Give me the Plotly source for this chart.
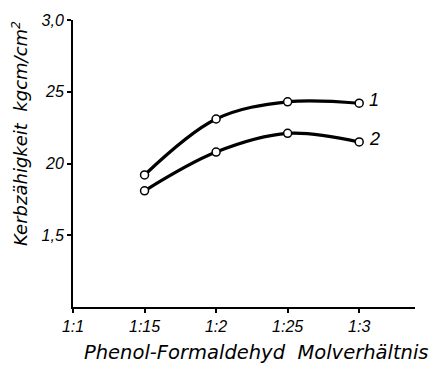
import plotly.graph_objects as go

x_vals = [1.5, 2.0, 2.5, 3.0]
x_tick_vals = [1.0, 1.5, 2.0, 2.5, 3.0]
x_tick_text = ["1:1", "1:15", "1:2", "1:25", "1:3"]
y_tick_vals = [1.5, 2.0, 2.5, 3.0]
y_tick_text = ["1,5", "20", "25", "3,0"]
curve1 = [1.92, 2.31, 2.43, 2.42]
curve2 = [1.81, 2.08, 2.21, 2.15]
labels = ["1", "2"]

FONT = "Liberation Sans"
TFONT = "DejaVu Sans"

fig = go.Figure()
for ys in (curve1, curve2):
    fig.add_trace(go.Scatter(
        x=x_vals, y=ys, mode="lines+markers",
        line=dict(color="black", width=3.2, shape="spline", smoothing=1.0),
        marker=dict(symbol="circle", size=8, color="white",
                    line=dict(color="black", width=1.5)),
        showlegend=False, hoverinfo="skip"))

for lab, ys in zip(labels, (curve1, curve2)):
    fig.add_annotation(x=x_vals[-1], y=ys[-1], xref="x", yref="y",
                       text=lab, showarrow=False, xanchor="left",
                       xshift=8, yshift=3,
                       font=dict(family=FONT, size=18, color="black", style="italic"))

fig.add_annotation(xref="paper", yref="paper", x=-0.155, y=0.606,
                   text="Kerbzähigkeit  kgcm/cm<sup>2</sup>", textangle=-90,
                   showarrow=False, xanchor="center", yanchor="middle",
                   font=dict(family=TFONT, size=18, color="black", style="italic"))
fig.add_annotation(xref="paper", yref="paper", x=0.535, y=-0.158,
                   text="Phenol-Formaldehyd  Molverhältnis",
                   showarrow=False, xanchor="center", yanchor="middle",
                   font=dict(family=TFONT, size=19.5, color="black", style="italic"))

tickfont = dict(family=FONT, size=16, color="black", style="italic")
fig.update_layout(
    width=430, height=365,
    margin=dict(l=73, r=15, t=15, b=58),
    paper_bgcolor="white", plot_bgcolor="white",
    font=dict(family=FONT, size=16, color="black", style="italic"),
    xaxis=dict(range=[1.0, 3.39], tickvals=x_tick_vals,
               ticktext=["<i>%s</i>" % t for t in x_tick_text],
               tickfont=tickfont,
               showgrid=False, zeroline=False, showline=True, linecolor="black",
               linewidth=2, ticks="outside", ticklen=4, tickwidth=1.5,
               tickcolor="black"),
    yaxis=dict(range=[1.0, 3.0], tickvals=y_tick_vals,
               ticktext=["<i>%s</i>" % t for t in y_tick_text],
               tickfont=tickfont,
               showgrid=False, zeroline=False, showline=True, linecolor="black",
               linewidth=2, ticks="outside", ticklen=4, tickwidth=1.5,
               tickcolor="black"),
)

fig.write_html("out.html")
